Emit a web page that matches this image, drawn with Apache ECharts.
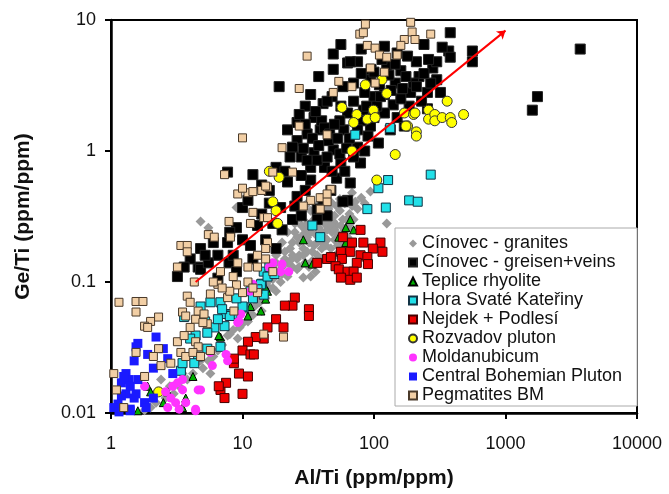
<!DOCTYPE html>
<html lang="en">
<head>
<meta charset="utf-8">
<title>Ge/Ti vs Al/Ti</title>
<style>
html, body { margin: 0; background: #fff; }
#chart { width: 669px; height: 494px; }
</style>
</head>
<body>
<div id="chart"></div>
<script src="https://cdn.jsdelivr.net/npm/echarts@6/dist/echarts.min.js"></script>
<script>
// [Al/Ti, Ge/Ti] pairs
var granites = [
  [25,0.28],[28,0.32],[30,0.25],[32,0.2],[35,0.3],[38,0.26],[40,0.2],[42,0.35],[45,0.28],[48,0.24],
  [50,0.32],[52,0.27],[55,0.35],[58,0.3],[60,0.25],[65,0.33],[68,0.38],[72,0.41],[68,0.48],[94,0.49],
  [125,0.28],[45,0.42],[38,0.4],[30,0.38],[26,0.22],[23,0.18],[22,0.24],[20,0.2],[27,0.16],[30,0.14],
  [34,0.17],[36,0.23],[42,0.22],[47,0.18],[50,0.21],[55,0.22],[24,0.13],[21,0.15],[19,0.12],[22,0.11],
  [26,0.125],[29,0.108],[19.5,0.1],[17,0.105],[18,0.085],[16,0.09],[15,0.075],[13.5,0.07],[14,0.06],[12,0.056],
  [11,0.05],[10,0.048],[9.2,0.037],[7.7,0.039],[8.5,0.043],[7,0.033],[6.5,0.03],[6,0.027],[5.7,0.02],[5,0.022],
  [4.5,0.024],[4.2,0.02],[3.8,0.018],[3.3,0.016],[3,0.014],[2.4,0.018],[2.6,0.013],[2.2,0.012],[2,0.011],[1.8,0.0105],
  [4.8,0.29],[5.5,0.26],[9,0.37],[18,0.16],[33,0.35],[60,0.4],[40,0.15],[44,0.25],[52,0.38],[62,0.3],[36,0.12],[31,0.4],
  [27,0.2],[29,0.23],[33,0.24],[35,0.19],[37,0.16],[39,0.29],[41,0.32],[43,0.19],[46,0.33],[49,0.29],
  [51,0.16],[53,0.19],[56,0.27],[58,0.24],[63,0.22],[66,0.28],[70,0.3],[75,0.36],[80,0.44],[85,0.4],
  [24,0.16],[25,0.24],[21,0.17],[23,0.145],[27,0.13],[32,0.13],[34,0.145],[38,0.33],[28,0.27],[31,0.28],
  [45,0.36],[48,0.4],[55,0.43],[20,0.13],[17,0.12],[16,0.11],[14,0.085],[12.5,0.066],[11,0.06],[9.5,0.045],
  [8,0.04],[6.8,0.036],[5.5,0.025],[4.8,0.025],[3.5,0.02],[2.8,0.016],[13,0.08],[15.5,0.1],[17,0.09],[20,0.115],[18,0.14],
  [26,0.3],[29,0.18],[31,0.22],[33,0.28],[36,0.27],[40,0.24],[42,0.28],[44,0.21],[47,0.27],[50,0.25],
  [53,0.23],[57,0.2],[60,0.21],[64,0.26],[35,0.35],[39,0.37],[43,0.4],[24,0.2],[22,0.14],[26,0.15],
  [29,0.16],[31,0.17],[37,0.2],[40,0.18],[33,0.11],[38,0.14]
];
var greisen = [
  [49,5.5],[63,4.7],[38,3.7],[19,3.1],[33,2.7],[49,4.2],[41,2.3],[56,2.2],[26,1.65],[35,1.8],
  [39,1.45],[31,1.35],[26,1.2],[59,1.45],[63,1.95],[70,3.3],[380,8.0],[560,5.8],[370,5.8],[380,5.2],
  [560,4.8],[210,4.8],[180,5.3],[150,5.6],[280,4.3],[160,4.1],[125,4.4],[300,3.5],[220,3.7],[190,2.8],
  [320,2.8],[255,2.8],[145,3.3],[120,2.7],[94,3.5],[75,4.8],[66,4.8],[255,2.1],[185,2.2],[140,2.25],
  [120,1.95],[170,1.55],[133,1.45],[83,2.05],[70,2.4],[94,1.55],[108,1.15],[3700,6.0],[1750,2.6],[1600,2.05],
  [24,1.07],[35,0.97],[49,1.02],[75,1.07],[33,0.75],[56,0.81],[79,0.81],[33,0.6],[52,0.62],[66,0.57],
  [22,0.58],[26,0.45],[37,0.36],[63,0.42],[44,0.32],[20,0.25],[24,0.3],[19.5,0.37],[41,0.43],[58,0.41],
  [37,0.3],[7.7,0.69],[12,0.66],[10,0.37],[4.8,0.18],[4.6,0.13],[6.5,0.16],[7.7,0.2],[10,0.21],[13,0.27],
  [3.2,0.11],[7.9,0.14],[11.5,0.19],[16,0.4],[6.5,0.107],[4.8,0.125],[45,1.2],[28,0.9],[42,0.75],[90,1.3],
  [100,2.6],[110,3.2],[85,2.8],[150,1.8],[200,3.3],[230,2.4],[270,3.3],[115,5.0],[95,4.2],[48,2.6],
  [30,2.2],[22,1.45],[55,1.7],[80,1.7],[65,1.25],[40,1.7],[18,0.75],[28,0.65],[47,0.5],[30,0.5],
  [14,0.33],[9,0.26],[8.5,0.16],[5.5,0.14],[9,0.12],[12,0.15],[15,0.21],[18,0.18],[55,0.95],[160,2.5],
  [100,1.8],[240,6.5],[300,4.8],[130,3.8],
  [27,1.9],[30,1.6],[34,1.25],[38,1.1],[42,1.5],[46,1.35],[50,1.6],[36,2.0],[29,1.05],[31,0.85],
  [37,0.85],[44,0.9],[48,0.7],[60,0.7],[70,0.9],[85,1.0],[62,1.05],[53,1.25],[75,1.45],[88,2.2],
  [105,2.2],[112,2.6],[135,2.9],[165,3.0],[175,3.7],[210,3.1],[240,3.9],[260,5.0],[330,6.2],[145,4.6],
  [100,4.0],[80,3.9],[58,3.1],[44,2.4],[23,0.9],[21,0.7],[14,0.55],[16,0.5],[11,0.42],[25,0.38],
  [28,0.32],[17,0.28],[6,0.2],[5.2,0.16],[8,0.24],[4,0.15],[3.6,0.13],[56,6.5],[80,6.0],[120,6.3]
];
var teplice = [
  [66,0.3],[61,0.26],[70,0.25],[29,0.21],[54,0.22],[61,0.2],[30,0.14],[34,0.137],[15,0.074],[15.5,0.085],
  [11.5,0.065],[11,0.055],[6.8,0.038],[4.2,0.019],[3.7,0.013],[1.9,0.016],[2,0.0145],[2.7,0.0145],[2.5,0.012],[13.8,0.06],
  [15,0.09],[6.6,0.039],[1.6,0.0104],[3.5,0.011]
];
var hora = [
  [270,0.66],[185,0.42],[215,0.41],[108,0.52],[128,0.6],[123,0.37],[89,0.36],[34,0.27],[39,0.22],[133,1.5],
  [72,1.33],[14.5,0.12],[14,0.097],[4.8,0.065],[5.7,0.07],[6.8,0.07],[7.5,0.057],[7.3,0.046],[6.1,0.045],[5.4,0.041],
  [4.4,0.039],[4.6,0.027],[4.3,0.024],[3.4,0.021],[10.2,0.064],[11.5,0.085],[13.8,0.096],[14.5,0.08],[8.4,0.057],[6.8,0.032],
  [5.4,0.031],[3.6,0.054],[4,0.037],[8,0.055],[10,0.065],[13,0.088],[15.5,0.11],[3.5,0.024],[9,0.075],[12,0.075],
  [7,0.062],[5.2,0.05],[6.5,0.052],[16,0.13],[17.5,0.115]
];
var nejdek = [
  [79,0.25],[58,0.22],[68,0.2],[83,0.2],[112,0.2],[98,0.18],[116,0.17],[56,0.17],[66,0.17],[79,0.16],
  [89,0.155],[74,0.14],[90,0.137],[57,0.15],[44,0.15],[37,0.14],[51,0.132],[54,0.125],[63,0.12],[70,0.12],
  [56,0.108],[66,0.104],[74,0.108],[25,0.076],[24,0.066],[21,0.066],[32,0.062],[32,0.055],[18,0.052],[20.5,0.045],
  [15.5,0.045],[14.5,0.037],[12.6,0.038],[11,0.035],[10,0.03],[11.5,0.028],[8.6,0.024],[9.4,0.02],[11,0.019],[6.8,0.015],
  [7.5,0.017],[10,0.014],[7.3,0.013],[8.6,0.026],[6.6,0.016],[12.2,0.028],[47,0.155]
];
var rozvadov = [
  [86,3.2],[115,3.5],[125,2.75],[74,1.9],[89,1.75],[99,2.05],[102,1.8],[70,1.65],[170,1.95],[200,1.9],
  [180,1.55],[210,1.4],[210,1.3],[260,2.05],[260,1.75],[290,1.9],[290,1.7],[330,1.8],[380,1.8],[390,1.65],
  [480,1.9],[360,2.4],[57,2.15],[68,1.0],[145,0.94],[105,0.6],[16,0.7],[19,0.63],[17,0.41],[18,0.35],
  [18.5,0.28],[2.3,0.0145],[205,1.95],[175,1.55]
];
var moldanubicum = [
  [17,0.14],[20,0.137],[19.5,0.12],[22.5,0.12],[16,0.13],[12,0.096],[11.5,0.085],[9.7,0.057],[9.2,0.049],[7.5,0.028],
  [7.7,0.025],[5.9,0.023],[4.8,0.015],[3.2,0.017],[3.5,0.015],[2.95,0.016],[2.85,0.013],[3.1,0.012],[3.3,0.0107],[2.7,0.011],
  [3.7,0.012],[4.4,0.0107],[2.6,0.0145],[3.5,0.018],[4.6,0.015],[5.7,0.029],[9.4,0.05],[12.2,0.088],[1.8,0.016],[4.4,0.0104]
];
var bohemian = [
  [2.2,0.038],[1.6,0.034],[2.5,0.031],[1.5,0.025],[2.1,0.022],[2.95,0.02],[1.3,0.02],[1.2,0.017],[1.37,0.018],[1.55,0.014],
  [1.3,0.014],[1.13,0.0117],[1.8,0.012],[1.4,0.0107],[1.9,0.028],[1.55,0.032],[2.7,0.026],[1.25,0.019],[1.4,0.016],[1.2,0.0135],
  [1.5,0.013],[1.05,0.011],[1.4,0.0104],[1.85,0.011],[2.1,0.013],[1.15,0.0102],[1.6,0.018]
];
var pegmatites = [
  [31,5.3],[27,3.0],[54,3.4],[49,2.8],[68,3.1],[78,7.8],[10,1.26],[27,1.55],[44,1.33],[20,1.06],
  [86,9.3],[190,9.6],[195,8.1],[270,7.8],[170,7.1],[205,7.1],[160,6.4],[89,6.4],[102,6.1],[110,5.4],
  [125,5.2],[150,5.4],[94,4.3],[120,4.0],[102,3.3],[83,8.0],[7.3,0.66],[9.2,0.47],[11,0.48],[12,0.49],
  [14,0.5],[10,0.52],[15.5,0.53],[12,0.34],[14.5,0.31],[7.9,0.29],[5.5,0.23],[6.1,0.22],[8.1,0.22],[3.4,0.19],
  [3.8,0.19],[3.8,0.17],[11.5,0.28],[15.5,0.2],[3.2,0.13],[9.2,0.14],[13,0.16],[11,0.13],[13,0.13],[6.8,0.12],
  [1.15,0.07],[1.55,0.071],[1.55,0.059],[1.75,0.071],[2.0,0.05],[2.3,0.054],[1.8,0.046],[1.9,0.045],[1.55,0.029],[2.3,0.031],
  [2.1,0.027],[2.4,0.023],[2.85,0.024],[3.2,0.035],[3.4,0.029],[3.7,0.027],[1.8,0.019],[1.05,0.02],[1.1,0.015],[1.25,0.011],
  [3.5,0.059],[3.7,0.055],[4.0,0.045],[4.4,0.052],[4.6,0.06],[5.1,0.057],[5.4,0.048],[4.4,0.035],[4.6,0.032],[4.2,0.029],
  [4.8,0.027],[5.7,0.03],[3.8,0.078],[4.3,0.1],[5.7,0.081],[6.5,0.096],[7.7,0.076],[8.6,0.06],[5,0.049],[3.6,0.039],
  [4,0.07],[10,0.083],[13,0.083],[14.5,0.04],[20.5,0.038],[33,0.42],[39,0.44],[44,0.41],[47,0.51],[44,0.47],
  [29,0.38],[39,0.36],[15,0.54],[17,0.69],[24,0.69],[15.5,0.31],[15,0.18],[15,0.15],[17,0.12],[9,0.095],
  [11,0.1],[12,0.09],[8,0.085],[6,0.1],[7,0.09],[8.5,0.11]
];
// trend arrow end points
var trendStart = [4.4, 0.1];
var trendEnd = [1000, 8.3];
var xTicks = [1, 10, 100, 1000, 10000];
var yTicks = [0.01, 0.1, 1, 10];

var font = 'Liberation Sans, Arial, sans-serif';

function ser(name, data, symbol, size, color, border) {
  return {
    name: name,
    type: 'scatter',
    data: data,
    symbol: symbol,
    symbolSize: size,
    animation: false,
    itemStyle: {
      color: color,
      opacity: 1,
      borderColor: border || color,
      borderWidth: border ? 1 : 0
    }
  };
}

var series = [
  ser('Cínovec - granites', granites, 'diamond', 10, '#999999'),
  ser('Cínovec - greisen+veins', greisen, 'rect', 10, '#000000', '#222'),
  ser('Teplice rhyolite', teplice, 'triangle', 8, '#00b000', '#000'),
  ser('Hora Svaté Kateřiny', hora, 'rect', 9, '#22e0e8', '#134'),
  ser('Nejdek + Podlesí', nejdek, 'rect', 9, '#ee0000', '#400'),
  ser('Rozvadov pluton', rozvadov, 'circle', 10, '#ffff00', '#333'),
  ser('Moldanubicum', moldanubicum, 'circle', 9, '#ff33ff'),
  ser('Central Bohemian Pluton', bohemian, 'rect', 9, '#1a1aff'),
  ser('Pegmatites BM', pegmatites, 'rect', 8, '#f2cfa5', '#4a3a2a')
];
series.push({
  type: 'scatter',
  data: [],
  markLine: {
    silent: true,
    animation: false,
    symbol: ['none', 'arrow'],
    symbolSize: 8,
    label: { show: false },
    lineStyle: { color: '#ff0000', width: 2, type: 'solid' },
    data: [[{ coord: trendStart }, { coord: trendEnd }]]
  }
});

function plain(v) { return String(+Number(v).toPrecision(6)); }

var chart = echarts.init(document.getElementById('chart'));
chart.setOption({
  animation: false,
  textStyle: { fontFamily: font },
  grid: {
    left: 111, right: 32, top: 20, bottom: 80,
    show: true, borderColor: '#000', borderWidth: 2
  },
  legend: {
    orient: 'vertical',
    left: 395,
    top: 228,
    padding: [6, 15, 1, 13],
    itemGap: 0,
    itemWidth: 8,
    itemHeight: 8,
    backgroundColor: '#fff',
    borderColor: '#aaa',
    borderWidth: 1,
    data: series.slice(0, 9).map(function (s) { return s.name; }),
    textStyle: { fontSize: 18, color: '#111', lineHeight: 19, fontFamily: font }
  },
  xAxis: {
    type: 'log',
    logBase: 10,
    min: xTicks[0],
    max: xTicks[xTicks.length - 1],
    name: 'Al/Ti (ppm/ppm)',
    nameLocation: 'middle',
    nameGap: 55,
    nameTextStyle: { fontSize: 21, fontWeight: 'bold', color: '#111', fontFamily: font },
    axisLine: { lineStyle: { color: '#000', width: 2.5 } },
    axisTick: { length: 6, lineStyle: { color: '#000', width: 2 } },
    minorTick: { show: false },
    axisLabel: { fontSize: 18, color: '#111', margin: 22, formatter: plain },
    splitLine: { show: false }
  },
  yAxis: {
    type: 'log',
    logBase: 10,
    min: yTicks[0],
    max: yTicks[yTicks.length - 1],
    name: 'Ge/Ti (ppm/ppm)',
    nameLocation: 'middle',
    nameGap: 77,
    nameTextStyle: { fontSize: 21, fontWeight: 'bold', color: '#111', fontFamily: font },
    axisLine: { lineStyle: { color: '#000', width: 2.5 } },
    axisTick: { length: 6, lineStyle: { color: '#000', width: 2 } },
    axisLabel: { fontSize: 18, color: '#111', margin: 15, formatter: plain },
    splitLine: { show: false }
  },
  series: series
});
</script>
</body>
</html>
